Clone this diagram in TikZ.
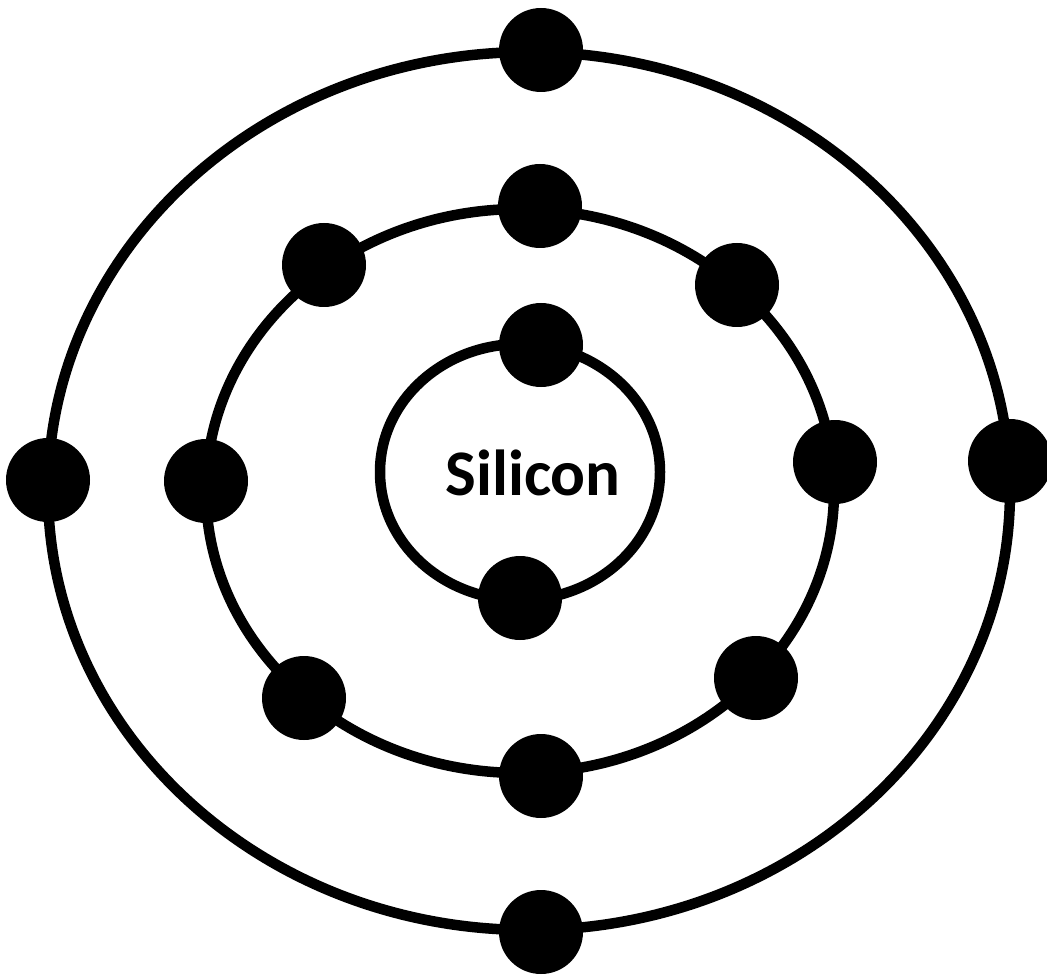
\documentclass[tikz,border=0pt]{standalone}
\usepackage{fontspec}
\newfontfamily\calib{Carlito}
\begin{document}
\begin{tikzpicture}[x=1pt,y=-1pt,
  orbit/.style={draw=black,line width=10.5pt},
  electron/.style={circle,fill=black,inner sep=0pt,minimum size=84pt}]
\useasboundingbox (0,0) rectangle (1047,976);
\fill[white] (0,0) rectangle (1047,976);
% orbits
\coordinate (oc) at (529,491);
\coordinate (mc) at (520,491);
\coordinate (ic) at (520,472);
\draw[orbit] (oc) ellipse [x radius=481, y radius=439];
\draw[orbit] (mc) ellipse [x radius=314, y radius=282];
\draw[orbit] (ic) ellipse [x radius=140, y radius=128];
% label
\node[anchor=base,inner sep=0pt,font=\calib\bfseries\fontsize{65}{78}\selectfont] (lbl) at (533,495) {Silicon};
% outer electrons
\node[electron] (o1) at (541,50) {};
\node[electron] (o2) at (48,480) {};
\node[electron] (o3) at (1010,461) {};
\node[electron] (o4) at (541,932) {};
% middle electrons
\node[electron] (m1) at (540,206) {};
\node[electron] (m2) at (324,265) {};
\node[electron] (m3) at (737,285) {};
\node[electron] (m4) at (206,481) {};
\node[electron] (m5) at (835,462) {};
\node[electron] (m6) at (304,698) {};
\node[electron] (m7) at (756,678) {};
\node[electron] (m8) at (541,776) {};
% inner electrons
\node[electron] (i1) at (541,345) {};
\node[electron] (i2) at (520,598) {};
\end{tikzpicture}
\end{document}
